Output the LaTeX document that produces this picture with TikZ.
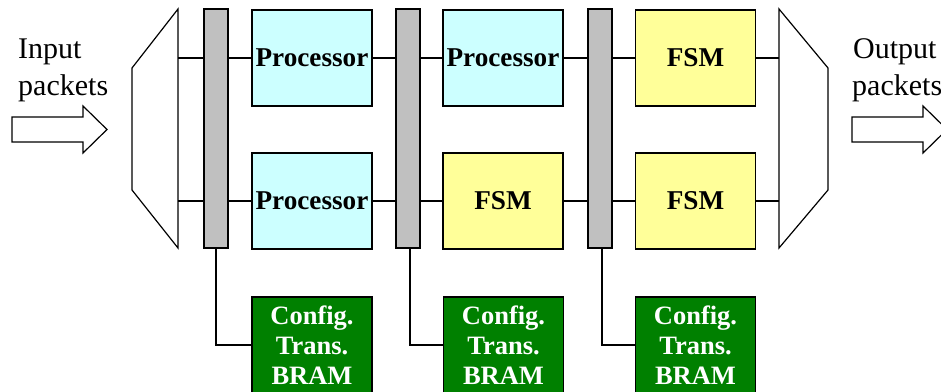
\documentclass[tikz,border=0pt]{standalone}
\usepackage{fontspec}
\setmainfont{Liberation Serif}
\definecolor{cyanfill}{HTML}{CCFFFF}
\definecolor{yellowfill}{HTML}{FFFF99}
\definecolor{bargray}{HTML}{C0C0C0}
\definecolor{bramgreen}{HTML}{008000}
\begin{document}
\begin{tikzpicture}[x=1pt,y=-1pt,
  blk/.style={draw=black, line width=1.4pt, inner sep=0pt,
    minimum width=120pt, minimum height=96pt,
    font=\fontsize{27.2}{30}\selectfont\bfseries},
  proc/.style={blk, fill=cyanfill},
  fsm/.style={blk, fill=yellowfill},
  bram/.style={blk, fill=bramgreen, text=white, align=center,
    font=\fontsize{26.5}{30}\selectfont\bfseries},
  bar/.style={draw=black, line width=1.4pt, fill=bargray,
    minimum width=24pt, minimum height=239pt, inner sep=0pt},
  wire/.style={line width=1.3pt},
  outline/.style={draw=black, line width=1.2pt, fill=white},
  label/.style={anchor=base west, inner sep=0pt, font=\fontsize{30}{36}\selectfont}]
\useasboundingbox (0,0) rectangle (941,391);
\clip (0,0) rectangle (941,391);

% input / output multiplexers
\draw[outline] (178,9) -- (178,248) -- (132,190) -- (132,68) -- cycle;
\draw[outline] (779,9) -- (828,68) -- (828,190) -- (779,248) -- cycle;
\coordinate (inA) at (178,58);
\coordinate (inB) at (178,201);
\coordinate (outA) at (779,58);
\coordinate (outB) at (779,201);

% packet arrows
\draw[outline] (12,117) -- (83,117) -- (83,106) -- (107,129.5) -- (83,153)
  -- (83,142) -- (12,142) -- cycle;
\draw[outline] (852,117) -- (923,117) -- (923,106) -- (947,129.5) -- (923,153)
  -- (923,142) -- (852,142) -- cycle;
\node[label] (intxt1) at (18,58) {Input};
\node[label] (intxt2) at (18,95) {packets};
\node[label] (outtxt1) at (853,58) {Output};
\node[label] (outtxt2) at (852,95) {packets};

% crossbars
\node[bar] (bar1) at (216,128.5) {};
\node[bar] (bar2) at (408,128.5) {};
\node[bar] (bar3) at (600,128.5) {};

% processing stages
\node[proc] (p11) at (312,58) {Processor};
\node[proc] (p21) at (312,201) {Processor};
\node[proc] (p12) at (503,58) {Processor};
\node[fsm]  (p22) at (503,201) {FSM};
\node[fsm]  (p13) at (695.5,58) {FSM};
\node[fsm]  (p23) at (695.5,201) {FSM};

% configuration memories
\node[bram] (m1) at (312,345) {Config.\\Trans.\\BRAM};
\node[bram] (m2) at (503.5,345) {Config.\\Trans.\\BRAM};
\node[bram] (m3) at (695.5,345) {Config.\\Trans.\\BRAM};

% datapath wires
\draw[wire] (inA) -- (bar1.west |- inA);
\draw[wire] (inB) -- (bar1.west |- inB);
\draw[wire] (bar1.east |- p11.west) -- (p11.west);
\draw[wire] (bar1.east |- p21.west) -- (p21.west);
\draw[wire] (p11.east) -- (bar2.west |- p11.east);
\draw[wire] (p21.east) -- (bar2.west |- p21.east);
\draw[wire] (bar2.east |- p12.west) -- (p12.west);
\draw[wire] (bar2.east |- p22.west) -- (p22.west);
\draw[wire] (p12.east) -- (bar3.west |- p12.east);
\draw[wire] (p22.east) -- (bar3.west |- p22.east);
\draw[wire] (bar3.east |- p13.west) -- (p13.west);
\draw[wire] (bar3.east |- p23.west) -- (p23.west);
\draw[wire] (p13.east) -- (outA);
\draw[wire] (p23.east) -- (outB);

% memory links
\draw[wire] (bar1.south) |- (m1.west);
\draw[wire] ([xshift=2pt]bar2.south) |- (m2.west);
\draw[wire] ([xshift=2pt]bar3.south) |- (m3.west);
\end{tikzpicture}
\end{document}
